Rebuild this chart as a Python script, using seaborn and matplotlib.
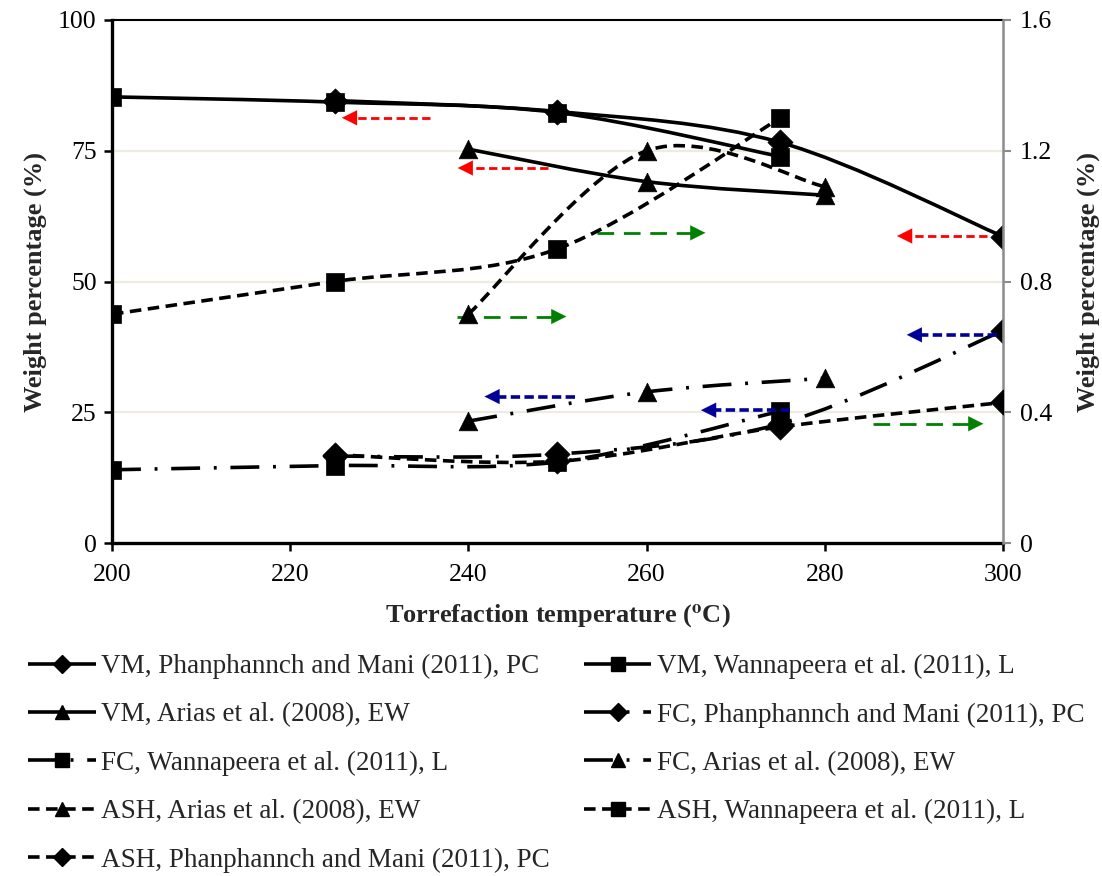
import numpy as np
import matplotlib
matplotlib.use("Agg")
import matplotlib.pyplot as plt
from matplotlib.path import Path
from matplotlib.patches import PathPatch
from matplotlib.lines import Line2D
import seaborn as sns
import pandas as pd

# ---------------- data ----------------
temps_phan = [225, 250, 275, 300]
temps_wann = [200, 225, 250, 275]
temps_arias = [240, 260, 280]

vm_phan = [84.6, 82.5, 76.6, 58.6]
vm_wann = [85.3, 84.3, 82.3, 73.9]
vm_arias = [75.3, 69.1, 66.5]
fc_phan = [16.6, 17.0, 22.8, 40.6]
fc_wann = [14.0, 14.8, 15.5, 25.2]
fc_arias = [23.3, 28.9, 31.5]
ash_arias = [0.70, 1.20, 1.09]
ash_wann = [0.70, 0.80, 0.90, 1.30]
ash_phan = [0.27, 0.25, 0.355, 0.43]

labels = [
    "VM, Phanphannch and Mani (2011), PC",
    "VM, Wannapeera et al. (2011), L",
    "VM, Arias et al. (2008), EW",
    "FC, Phanphannch and Mani (2011), PC",
    "FC, Wannapeera et al. (2011), L",
    "FC, Arias et al. (2008), EW",
    "ASH, Arias et al. (2008), EW",
    "ASH, Wannapeera et al. (2011), L",
    "ASH, Phanphannch and Mani (2011), PC",
]

x_ticks = [200, 220, 240, 260, 280, 300]
y_left_ticks = [0, 25, 50, 75, 100]
y_right_ticks = [0, 0.4, 0.8, 1.2, 1.6]

# ---------------- style ----------------
sns.set_theme(style="white")
plt.rcParams["font.family"] = ["Liberation Serif", "DejaVu Serif"]
plt.rcParams["mathtext.fontset"] = "stix"

fig = plt.figure(figsize=(11.02, 8.76), dpi=100)
ax = fig.add_axes([112 / 1102, 1 - 543 / 876, (1003 - 112) / 1102, (543 - 20) / 876])
ax2 = ax.twinx()

LW = 2.6
solid = (0, ())
dashdot = (0, (8, 3.8, 0.8, 3.8))
dashed = (0, (3.2, 1.8))


def smooth_path(xs, ys):
    """Excel-style smoothed line: cubic Bezier through every data point."""
    P = np.column_stack([xs, ys]).astype(float)
    n = len(P)
    verts = [P[0]]
    codes = [Path.MOVETO]
    for i in range(n - 1):
        p0 = P[i - 1] if i > 0 else P[i]
        p1 = P[i]
        p2 = P[i + 1]
        p3 = P[i + 2] if i + 2 < n else P[i + 1]
        c1 = p1 + (p2 - p0) / 6.0
        c2 = p2 - (p3 - p1) / 6.0
        verts += [c1, c2, p2]
        codes += [Path.CURVE4] * 3
    return Path(verts, codes)


series = [
    (ax, temps_phan, vm_phan, solid, "D"),
    (ax, temps_wann, vm_wann, solid, "s"),
    (ax, temps_arias, vm_arias, solid, "^"),
    (ax, temps_phan, fc_phan, dashdot, "D"),
    (ax, temps_wann, fc_wann, dashdot, "s"),
    (ax, temps_arias, fc_arias, dashdot, "^"),
    (ax2, temps_arias, ash_arias, dashed, "^"),
    (ax2, temps_wann, ash_wann, dashed, "s"),
    (ax2, temps_phan, ash_phan, dashed, "D"),
]

msize = {"D": 165, "s": 150, "^": 180}
for a, xs, ys, ls, mk in series:
    patch = PathPatch(smooth_path(xs, ys), fill=False, edgecolor="black",
                      lw=LW, linestyle=ls, capstyle="butt", zorder=3)
    a.add_patch(patch)
    df = pd.DataFrame({"x": xs, "y": ys})
    sns.scatterplot(data=df, x="x", y="y", ax=a, marker=mk, s=msize[mk],
                    color="black", edgecolor="black", linewidth=0.5,
                    zorder=4, legend=False)

# ---------------- axes ----------------
ax.set_xlim(200, 300)
ax.set_ylim(0, 100)
ax2.set_ylim(0, 1.6)
ax.set_xticks(x_ticks)
ax.set_yticks(y_left_ticks)
ax2.set_yticks(y_right_ticks)
ax2.set_yticklabels(["0", "0.4", "0.8", "1.2", "1.6"])

for a in (ax, ax2):
    a.set_xlabel("")
    a.set_ylabel("")

ax.grid(False)
ax2.grid(False)
for yv in [25, 50, 75]:
    ax.axhline(yv, color="#EEECE1", lw=1.6, zorder=0)

for s in ["left", "bottom", "top", "right"]:
    ax2.spines[s].set_visible(False)
ax.spines["left"].set_color("black")
ax.spines["left"].set_linewidth(2.4)
ax.spines["bottom"].set_color("black")
ax.spines["bottom"].set_linewidth(2.4)
ax.spines["top"].set_color("black")
ax.spines["top"].set_linewidth(1.5)
ax.spines["right"].set_visible(False)
ax2.spines["right"].set_visible(True)
ax2.spines["right"].set_color("#8C8C8C")
ax2.spines["right"].set_linewidth(1.8)

FS = 18.5
ax.tick_params(axis="both", which="major", direction="out", length=6, width=1.8,
               labelsize=FS, colors="black", pad=5, left=True, bottom=True)
ax.tick_params(axis="x", pad=9)
ax2.tick_params(axis="y", direction="out", length=6, width=1.5, color="#8C8C8C",
                labelcolor="black", labelsize=FS, pad=6, right=True)

ax.set_xlabel("Torrefaction temperature ($^{\\mathbf{o}}$C)", fontsize=19,
              fontweight="bold", labelpad=12)
ax.set_ylabel("Weight percentage (%)", fontsize=19, fontweight="bold", labelpad=8)
ax2.set_ylabel("Weight percentage (%)", fontsize=19, fontweight="bold", labelpad=18)

# ---------------- arrows ----------------
def arrow(x0, x1, y, color, dash, lw):
    ax.plot([x0, x1], [y, y], color=color, lw=lw, linestyle=(0, dash), zorder=5,
            solid_capstyle="butt", dash_capstyle="butt")
    d = 1.0 if x1 > x0 else -1.0
    ax.annotate("", xy=(x1 + d * 0.6, y), xytext=(x1 - d * 0.5, y),
                arrowprops=dict(arrowstyle="-|>,head_length=0.9,head_width=0.45",
                                color=color, lw=0.1, shrinkA=0, shrinkB=0), zorder=6)

red_arrows = [(235.7, 226.4, 81.3), (248.9, 239.4, 71.7), (298.2, 288.7, 58.7)]
green_arrows = [(238.7, 250.4, 43.3), (254.4, 266.0, 59.3), (285.4, 297.2, 22.8)]
blue_arrows = [(252.0, 242.4, 28.0), (276.1, 266.7, 25.4), (299.3, 289.8, 39.8)]
for x0, x1, y in red_arrows:
    arrow(x0, x1, y, "#FF0000", (3.0, 1.6), 2.0)
for x0, x1, y in green_arrows:
    arrow(x0, x1, y, "#008000", (6.0, 3.5), 2.0)
for x0, x1, y in blue_arrows:
    arrow(x0, x1, y, "#000099", (2.6, 1.2), 2.6)

# ---------------- legend ----------------
handle_styles = [
    (solid, "D"), (solid, "s"), (solid, "^"),
    (dashdot, "D"), (dashdot, "s"), (dashdot, "^"),
    (dashed, "^"), (dashed, "s"), (dashed, "D"),
]
handles = [Line2D([], [], color="black", lw=LW, linestyle=ls, marker=mk,
                  markersize=10 if mk != "D" else 9)
           for ls, mk in handle_styles]
order = [0, 2, 4, 6, 8, 1, 3, 5, 7]
fig.legend([handles[i] for i in order], [labels[i] for i in order],
           loc="upper left", bbox_to_anchor=(28 / 1102, 1 - 654 / 876),
           ncol=2, frameon=False, fontsize=19.5, handlelength=2.5,
           handletextpad=0.2, labelspacing=0.86, columnspacing=1.25,
           borderaxespad=0, borderpad=0)

fig.savefig("out.png", dpi=100)
